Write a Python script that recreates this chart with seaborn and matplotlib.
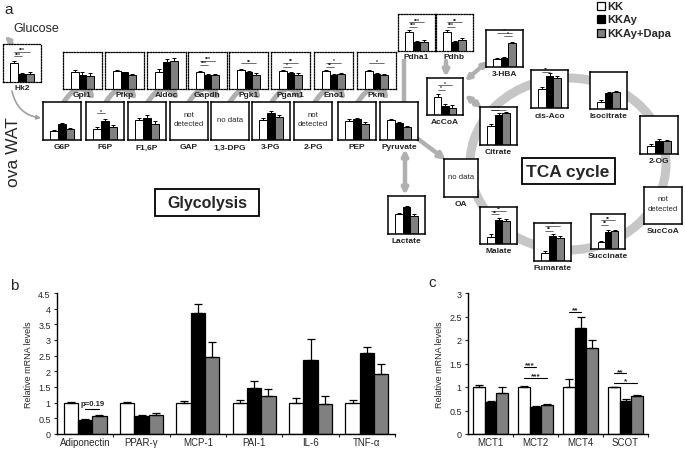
import numpy as np
import pandas as pd
import matplotlib
matplotlib.use("Agg")
import matplotlib.pyplot as plt
import seaborn as sns
from matplotlib.patches import FancyArrowPatch, Ellipse, Rectangle
from matplotlib.ticker import FuncFormatter

W, H = 685, 452
GROUPS = ["KK", "KKAy", "KKAy+Dapa"]
COLORS = ["white", "black", "#808080"]
ARROW_GRAY = "#b0b0b0"

# ---- panel b: inflammation / adipokine genes ----
GENES_B = ["Adiponectin", "PPAR-γ", "MCP-1", "PAI-1", "IL-6", "TNF-α"]
B_KK = [1.0, 1.0, 1.0, 1.0, 1.0, 1.0]
B_KK_ERR = [0.02, 0.02, 0.04, 0.07, 0.15, 0.10]
B_KKAY = [0.45, 0.58, 3.85, 1.47, 2.35, 2.60]
B_KKAY_ERR = [0.04, 0.04, 0.30, 0.22, 0.68, 0.17]
B_DAPA = [0.58, 0.60, 2.45, 1.20, 0.95, 1.90]
B_DAPA_ERR = [0.04, 0.07, 0.50, 0.23, 0.26, 0.33]

# ---- panel c: ketone transport genes ----
GENES_C = ["MCT1", "MCT2", "MCT4", "SCOT"]
C_KK = [1.0, 1.0, 1.0, 1.0]
C_KK_ERR = [0.05, 0.02, 0.18, 0.01]
C_KKAY = [0.68, 0.57, 2.26, 0.71]
C_KKAY_ERR = [0.02, 0.03, 0.23, 0.04]
C_DAPA = [0.88, 0.61, 1.84, 0.81]
C_DAPA_ERR = [0.12, 0.03, 0.16, 0.03]
# (gene index, group i, group j, height, label)
C_SIG = [(1, 0, 1, 1.42, "***"), (1, 0, 2, 1.19, "***"), (2, 0, 1, 2.59, "**"),
         (3, 0, 1, 1.29, "**"), (3, 0, 2, 1.09, "*")]

# ---- panel a: mini bar charts (relative units, 0-1 of box height) ----
MINI_NAMES = ["Hk2", "Gpi1", "Pfkp", "Aldoc", "Gapdh", "Pgk1", "Pgam1", "Eno1", "Pkm",
              "Pdha1", "Pdhb", "G6P", "F6P", "F1,6P", "3-PG", "PEP", "Pyruvate",
              "AcCoA", "3-HBA", "cis-Aco", "Isocitrate", "Citrate", "2-OG",
              "Lactate", "Malate", "Fumarate", "Succinate"]
MINI_KK = [0.50, 0.45, 0.49, 0.47, 0.47, 0.51, 0.49, 0.49, 0.49, 0.52, 0.52,
           0.24, 0.30, 0.52, 0.52, 0.50, 0.52, 0.50, 0.21, 0.50, 0.20, 0.50, 0.22,
           0.52, 0.20, 0.21, 0.19]
MINI_KKAY = [0.20, 0.38, 0.45, 0.73, 0.38, 0.45, 0.42, 0.38, 0.41, 0.23, 0.23,
             0.43, 0.50, 0.59, 0.70, 0.54, 0.45, 0.25, 0.23, 0.85, 0.43, 0.80, 0.35,
             0.70, 0.65, 0.66, 0.50]
MINI_DAPA = [0.22, 0.36, 0.39, 0.77, 0.38, 0.39, 0.39, 0.40, 0.38, 0.25, 0.30,
             0.28, 0.35, 0.43, 0.61, 0.43, 0.35, 0.20, 0.64, 0.78, 0.45, 0.83, 0.33,
             0.48, 0.62, 0.60, 0.52]
MINI_ERR = [0.04, 0.07, 0.02, 0.07, 0.02, 0.03, 0.03, 0.03, 0.03, 0.04, 0.04,
            0.03, 0.04, 0.06, 0.06, 0.05, 0.03, 0.06, 0.03, 0.06, 0.03, 0.04, 0.05,
            0.04, 0.06, 0.06, 0.03]
MINI_SIG = {
    "Hk2": [(0, 2, 0.80, "***"), (0, 1, 0.68, "***")],
    "Gapdh": [(0, 2, 0.77, "***"), (0, 1, 0.66, "***")],
    "Pgk1": [(0, 2, 0.69, "**")],
    "Pgam1": [(0, 2, 0.71, "**"), (0, 1, 0.60, "*")],
    "Eno1": [(0, 2, 0.71, "*"), (0, 1, 0.60, "**")],
    "Pkm": [(0, 2, 0.69, "*")],
    "Pdha1": [(0, 2, 0.78, "***"), (0, 1, 0.66, "***")],
    "Pdhb": [(0, 2, 0.78, "**"), (0, 1, 0.66, "***")],
    "F6P": [(0, 1, 0.70, "*")],
    "AcCoA": [(0, 2, 0.80, "*"), (0, 1, 0.68, "*")],
    "3-HBA": [(0, 2, 0.93, "**"), (1, 2, 0.85, "*")],
    "cis-Aco": [(0, 1, 0.95, "**")],
    "Citrate": [(0, 1, 0.93, "**"), (0, 2, 0.93, "**")],
    "Malate": [(0, 2, 0.90, "**"), (0, 1, 0.80, "**")],
    "Fumarate": [(0, 2, 0.92, "**"), (0, 1, 0.80, "**")],
    "Succinate": [(0, 2, 0.82, "**"), (0, 1, 0.70, "**")],
}
EMPTY_NAMES = ["GAP", "1,3-DPG", "2-PG", "OA", "SucCoA"]
EMPTY_TEXT = ["not\ndetected", "no data", "not\ndetected", "no data", "not\ndetected"]

# box positions in pixels (x0, y0, x1, y1), image coordinates
ENZYMES = ["Hk2", "Gpi1", "Pfkp", "Aldoc", "Gapdh", "Pgk1", "Pgam1", "Eno1", "Pkm", "Pdha1", "Pdhb"]
BOX = {
    "Hk2": (3, 45, 41, 83),
    "Gpi1": (63, 53, 102, 90), "Pfkp": (105, 53, 144, 90), "Aldoc": (147, 53, 186, 90),
    "Gapdh": (188, 53, 227, 90), "Pgk1": (229, 53, 268, 90), "Pgam1": (271, 53, 310, 90),
    "Eno1": (314, 53, 353, 90), "Pkm": (357, 53, 396, 90),
    "Pdha1": (398, 15, 435, 52), "Pdhb": (436, 15, 473, 52),
    "G6P": (43, 103, 81, 141), "F6P": (86, 103, 124, 141), "F1,6P": (128, 103, 166, 141),
    "GAP": (170, 103, 208, 141), "1,3-DPG": (211, 103, 249, 141), "3-PG": (252, 103, 290, 141),
    "2-PG": (294, 103, 332, 141), "PEP": (338, 103, 376, 141), "Pyruvate": (380, 103, 418, 141),
    "AcCoA": (427, 79, 463, 116), "3-HBA": (486, 31, 523, 68), "cis-Aco": (531, 71, 568, 109),
    "Isocitrate": (590, 73, 627, 110), "Citrate": (480, 108, 517, 146), "2-OG": (640, 117, 678, 155),
    "OA": (444, 160, 478, 198), "SucCoA": (644, 188, 682, 225), "Lactate": (388, 197, 425, 235),
    "Malate": (480, 208, 517, 245), "Fumarate": (534, 224, 571, 262), "Succinate": (591, 215, 625, 250),
}

sns.set_style("ticks")
plt.rcParams["font.family"] = ["Liberation Sans", "DejaVu Sans"]

fig = plt.figure(figsize=(6.85, 4.52), dpi=100)
fig.patch.set_facecolor("white")

ov = fig.add_axes([0, 0, 1, 1], zorder=0)
ov.set_xlim(0, W)
ov.set_ylim(H, 0)
ov.axis("off")


def px_axes(box, z=2):
    x0, y0, x1, y1 = box
    return fig.add_axes([x0 / W, 1 - y1 / H, (x1 - x0) / W, (y1 - y0) / H], zorder=z)


def box_frame(ax, dotted):
    ax.set_xticks([])
    ax.set_yticks([])
    ax.set_xlabel("")
    ax.set_ylabel("")
    ax.set_facecolor("white")
    for sp in ax.spines.values():
        sp.set_visible(True)
        sp.set_color("black")
        if dotted:
            sp.set_linestyle((0, (1, 1.2)))
            sp.set_linewidth(0.9)
        else:
            sp.set_linewidth(1.1)


def arrow(p, q, style="-|>", rad=0.0, lw=3.0, ms=9, color=ARROW_GRAY, z=1):
    ov.add_patch(FancyArrowPatch(p, q, arrowstyle=style, mutation_scale=ms, lw=lw,
                                 color=color, shrinkA=0, shrinkB=0, zorder=z,
                                 connectionstyle=f"arc3,rad={rad}"))


# background pathway graphics
ov.add_patch(Ellipse((568, 165), 196, 172, fill=False, ec="#c6c6c6", lw=6.5))
for enz in ENZYMES[1:9]:
    x0, y0, x1, y1 = BOX[enz]
    arrow((x0 + 1, 103), (x1 - 7, 101), rad=-0.7, lw=3.6, ms=8)
arrow((12, 44), (5, 37), lw=2.5, ms=7)
arrow((12, 92), (41, 119), rad=0.35, lw=1.2, ms=6, color="#a0a0a0")
arrow((418, 140), (446, 161), lw=3.2, ms=9)
arrow((405, 150), (405, 196), style="<|-|>", lw=3.2, ms=8)
ov.plot([404, 404], [103, 60], color=ARROW_GRAY, lw=3.2, solid_capstyle="butt")
arrow((446, 62), (446, 78), lw=3.2, ms=8)
arrow((465, 82), (488, 62), style="<|-|>", lw=3.0, ms=7)
arrow((465, 96), (482, 109), style="<|-|>", lw=3.0, ms=7)

# label boxes
ov.add_patch(Rectangle((155, 190), 104, 27, fc="white", ec="black", lw=1.3))
ov.text(207, 204, "Glycolysis", ha="center", va="center", fontsize=11.5, fontweight="bold")
ov.add_patch(Rectangle((522, 159), 93, 26, fc="white", ec="black", lw=1.3, zorder=3))
ov.text(568, 172.5, "TCA cycle", ha="center", va="center", fontsize=12.5, fontweight="bold", zorder=4)

# mini bar charts
for name, a, b, c, e in zip(MINI_NAMES, MINI_KK, MINI_KKAY, MINI_DAPA, MINI_ERR):
    ax = px_axes(BOX[name])
    vals = [a, b, c]
    df = pd.DataFrame({"group": GROUPS, "value": vals})
    sns.barplot(data=df, x="group", y="value", hue="group", order=GROUPS, hue_order=GROUPS,
                palette=COLORS, width=1.0, edgecolor="black", linewidth=0.7,
                errorbar=None, legend=False, ax=ax)
    xs = [p.get_x() + p.get_width() / 2 for p in ax.patches]
    ax.errorbar(xs, vals, yerr=[[0, 0, 0], [e, e, e]], fmt="none", ecolor="black",
                elinewidth=0.7, capsize=1.3, capthick=0.7)
    for i, j, y, txt in MINI_SIG.get(name, []):
        ax.plot([xs[i], xs[j]], [y, y], color="black", lw=0.4)
        ax.text((xs[i] + xs[j]) / 2, y - 0.01, txt, ha="center", va="bottom",
                fontsize=3.6, fontweight="bold")
    ax.set_xlim(-1.45, 3.45)
    ax.set_ylim(0, 1)
    box_frame(ax, name in ENZYMES)
    x0, y0, x1, y1 = BOX[name]
    off = 5.5 if name in ENZYMES else 7
    ov.text((x0 + x1) / 2, y1 + off, name, ha="center", va="center",
            fontsize=6, fontweight="bold", color="#222222", zorder=4)

for name, txt in zip(EMPTY_NAMES, EMPTY_TEXT):
    ax = px_axes(BOX[name])
    box_frame(ax, False)
    ax.text(0.5, 0.55, txt, ha="center", va="center", fontsize=5.6,
            transform=ax.transAxes, linespacing=1.5)
    x0, y0, x1, y1 = BOX[name]
    ov.text((x0 + x1) / 2, y1 + 7, name, ha="center", va="center",
            fontsize=6, fontweight="bold", color="#222222", zorder=4)

# texts and legend of panel a
ov.text(4, 10, "a", ha="left", va="center", fontsize=11)
ov.text(13, 29, "Glucose", ha="left", va="center", fontsize=9)
ov.text(14, 152, "ova WAT", rotation=90, ha="center", va="center", fontsize=12.5)
for k, (g, col) in enumerate(zip(GROUPS, COLORS)):
    yc = 7 + 13.3 * k
    ov.add_patch(Rectangle((597, yc - 4), 8, 8, fc=col, ec="black", lw=0.9))
    ov.text(607, yc, g, ha="left", va="center", fontsize=8, fontweight="bold")

ov.text(10, 286, "b", ha="left", va="center", fontsize=11)
ov.text(428, 283, "c", ha="left", va="center", fontsize=11)


def bar_panel(box, genes, kk, kke, kkay, kkaye, dapa, dapae, ymax):
    ax = px_axes(box, z=1)
    n = len(genes)
    df = pd.DataFrame({"gene": genes * 3,
                       "group": np.repeat(GROUPS, n),
                       "value": kk + kkay + dapa})
    sns.barplot(data=df, x="gene", y="value", hue="group", order=genes, hue_order=GROUPS,
                palette=COLORS, width=0.76, edgecolor="black", linewidth=0.9,
                errorbar=None, legend=False, ax=ax)
    errs = [kke, kkaye, dapae]
    vals = [kk, kkay, dapa]
    bars = list(ax.containers)
    centers = []
    for k, cont in enumerate(bars):
        xs = [p.get_x() + p.get_width() / 2 for p in cont.patches]
        centers.append(xs)
        ax.errorbar(xs, vals[k], yerr=[[0] * n, errs[k]], fmt="none", ecolor="black",
                    elinewidth=0.9, capsize=2.6, capthick=0.9)
    ax.set_xlim(-0.5, n - 0.5)
    ax.set_ylim(0, ymax)
    ax.set_yticks(np.arange(0, ymax + 0.01, 0.5))
    ax.yaxis.set_major_formatter(FuncFormatter(lambda v, _: f"{v:g}"))
    ax.set_xticks(range(n))
    ax.set_xticklabels(genes)
    ax.set_xticks([i + 0.5 for i in range(n)], minor=True)
    ax.tick_params(axis="x", which="major", length=0, pad=2.5, labelsize=7)
    ax.tick_params(axis="x", which="minor", length=2.5, width=0.8, direction="out")
    ax.tick_params(axis="y", length=2.5, width=0.8, labelsize=6.5, pad=2)
    sns.despine(ax=ax)
    for sp in ["left", "bottom"]:
        ax.spines[sp].set_linewidth(1.0)
        ax.spines[sp].set_color("black")
    ax.set_xlabel("")
    ax.set_ylabel("Relative mRNA levels", fontsize=6.5, labelpad=4)
    return ax, centers


ax_b, cb = bar_panel((57, 294, 395, 435), GENES_B, B_KK, B_KK_ERR, B_KKAY, B_KKAY_ERR,
                     B_DAPA, B_DAPA_ERR, 4.5)
ax_b.plot([cb[1][0], cb[2][0]], [0.8, 0.8], color="black", lw=0.8)
ax_b.text((cb[1][0] + cb[2][0]) / 2, 0.85, "p=0.19", ha="center", va="bottom",
          fontsize=5.6, fontweight="bold")

ax_c, cc = bar_panel((468, 294, 648, 435), GENES_C, C_KK, C_KK_ERR, C_KKAY, C_KKAY_ERR,
                     C_DAPA, C_DAPA_ERR, 3.0)
for g, i, j, y, txt in C_SIG:
    ax_c.plot([cc[i][g], cc[j][g]], [y, y], color="black", lw=0.8)
    ax_c.text((cc[i][g] + cc[j][g]) / 2, y - 0.03, txt, ha="center", va="bottom",
              fontsize=6, fontweight="bold")

fig.savefig("out.png", dpi=100, facecolor="white")
